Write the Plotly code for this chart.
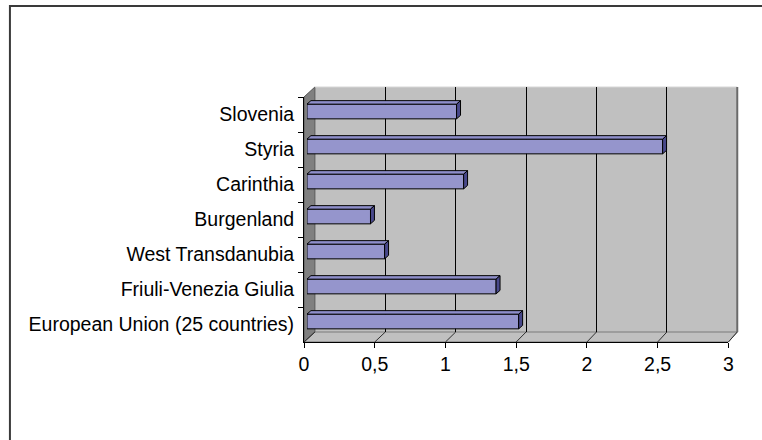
import plotly.graph_objects as go

# ---- data -------------------------------------------------------------
CATEGORIES = [
    "Slovenia",
    "Styria",
    "Carinthia",
    "Burgenland",
    "West Transdanubia",
    "Friuli-Venezia Giulia",
    "European Union (25 countries)",
]
VALUES = [1.06, 2.52, 1.11, 0.45, 0.55, 1.34, 1.50]
X_TICKS = [0, 0.5, 1, 1.5, 2, 2.5, 3]
X_TICK_TEXT = ["0", "0,5", "1", "1,5", "2", "2,5", "3"]

# ---- geometry / style -------------------------------------------------
W, H = 762, 440
X_RANGE = [0, 3]
Y_RANGE = [len(CATEGORIES) - 0.5, -0.5]  # first category on top

# pixel boxes (left, right, top, bottom) of the three depth planes
FRONT = (303, 733, 97, 342)   # axis plane
BARS = (306, 735, 94, 339)    # plane of the bar front faces
BACK = (314, 742, 87, 332)    # back wall

BAR_WIDTH = 0.42
BAR_DX = 4 / 143.0            # bar depth, x units
BAR_DY = 3.5 / 35.0           # bar depth, category units

FONT = dict(family="Liberation Sans, Arial, sans-serif", size=19.5, color="#000000")
BAR_FRONT = "#9595CC"
BAR_TOP = "#8E8ECA"
BAR_SIDE = "#48488A"
WALL = "#C0C0C0"
SIDE_WALL = "#808080"
EDGE = "#7A7A7A"


def xdom(box):
    return [box[0] / W, box[1] / W]


def ydom(box):
    return [1 - box[3] / H, 1 - box[2] / H]


def pp(px, py):
    """pixel -> paper fraction"""
    return px / W, 1 - py / H


def plane_x(box, v):
    return box[0] + (v - X_RANGE[0]) / (X_RANGE[1] - X_RANGE[0]) * (box[1] - box[0])


def path(points, close=True):
    s = "M " + " L ".join(f"{x:.5f},{y:.5f}" for x, y in points)
    return s + (" Z" if close else "")


fig = go.Figure()

# front axis plane: carries the category and value axes (no visible marks)
fig.add_trace(go.Scatter(
    x=[None] * len(CATEGORIES), y=CATEGORIES, mode="markers",
    xaxis="x", yaxis="y", hoverinfo="skip", showlegend=False,
))
# back wall plane: carries the gridlines (no visible marks)
fig.add_trace(go.Scatter(
    x=[None], y=[None], mode="markers",
    xaxis="x2", yaxis="y2", hoverinfo="skip", showlegend=False,
))
# bars (front faces) on the bar plane
fig.add_trace(go.Bar(
    x=VALUES, y=CATEGORIES, orientation="h",
    xaxis="x3", yaxis="y3",
    width=BAR_WIDTH,
    marker=dict(color=BAR_FRONT, line=dict(color="#000000", width=1)),
    hoverinfo="skip", showlegend=False,
))

shapes = []

# --- walls of the 3-D box (paper coordinates, under everything) ---
fl, fr, ft, fb = FRONT
bl, br, bt, bb = BACK
# back wall
shapes.append(dict(type="path", xref="paper", yref="paper", layer="below",
                   path=path([pp(bl, bt), pp(br, bt), pp(br, bb), pp(bl, bb)]),
                   fillcolor=WALL, line=dict(width=0)))
# floor
shapes.append(dict(type="path", xref="paper", yref="paper", layer="below",
                   path=path([pp(fl, fb), pp(fr, fb), pp(br, bb), pp(bl, bb)]),
                   fillcolor=WALL, line=dict(color=EDGE, width=1)))
# left side wall
shapes.append(dict(type="path", xref="paper", yref="paper", layer="below",
                   path=path([pp(fl, ft), pp(bl, bt), pp(bl, bb), pp(fl, fb)]),
                   fillcolor=SIDE_WALL, line=dict(color="#555555", width=1)))
# back wall top / right edges
shapes.append(dict(type="path", xref="paper", yref="paper", layer="below",
                   path=path([pp(bl, bt), pp(br, bt)], close=False),
                   line=dict(color="#D6D6D6", width=1)))
shapes.append(dict(type="path", xref="paper", yref="paper", layer="below",
                   path=path([pp(br, bt), pp(br, bb)], close=False),
                   line=dict(color="#6A6A6A", width=2)))
# floor lines running from each front tick back to the wall
for t in X_TICKS:
    shapes.append(dict(type="path", xref="paper", yref="paper", layer="below",
                       path=path([pp(plane_x(FRONT, t), fb), pp(plane_x(BACK, t), bb)], close=False),
                       line=dict(color="#303030", width=1)))

# --- top and side faces of each bar ---
for i, v in enumerate(VALUES):
    y_top = i - BAR_WIDTH / 2
    y_bot = i + BAR_WIDTH / 2
    shapes.append(dict(
        type="path", xref="x3", yref="y3", layer="above",
        path=path([(0, y_top), (v, y_top), (v + BAR_DX, y_top - BAR_DY), (BAR_DX, y_top - BAR_DY)]),
        fillcolor=BAR_TOP, line=dict(color="#000000", width=1)))
    shapes.append(dict(
        type="path", xref="x3", yref="y3", layer="above",
        path=path([(v, y_top), (v + BAR_DX, y_top - BAR_DY), (v + BAR_DX, y_bot - BAR_DY), (v, y_bot)]),
        fillcolor=BAR_SIDE, line=dict(color="#000000", width=1)))

# --- chart frame (top and left edges) ---
shapes.append(dict(type="path", xref="paper", yref="paper", layer="above",
                   path=path([pp(5, H + 20), pp(5, 6), pp(W + 20, 6)], close=False),
                   line=dict(color="#3A3A3A", width=2)))

fig.update_layout(
    width=W, height=H,
    margin=dict(l=0, r=0, t=0, b=0),
    paper_bgcolor="#FFFFFF",
    plot_bgcolor="rgba(0,0,0,0)",
    font=FONT,
    showlegend=False,
    shapes=shapes,
    # front plane: visible axes
    xaxis=dict(domain=xdom(FRONT), anchor="y", range=X_RANGE,
               tickmode="array", tickvals=X_TICKS, ticktext=X_TICK_TEXT,
               ticks="outside", ticklen=5, tickcolor="#000000", tickwidth=1,
               showline=True, linecolor="#000000", linewidth=1,
               showgrid=False, zeroline=False, tickfont=FONT,
               ticklabelstandoff=0),
    yaxis=dict(domain=ydom(FRONT), anchor="x", type="category",
               categoryorder="array", categoryarray=CATEGORIES,
               range=Y_RANGE, tickson="boundaries",
               ticks="outside", ticklen=5, tickcolor="#000000", tickwidth=1,
               showline=True, linecolor="#000000", linewidth=1,
               showgrid=False, zeroline=False, tickfont=FONT,
               ticklabelstandoff=5),
    # back wall plane: gridlines
    xaxis2=dict(domain=xdom(BACK), anchor="y2", range=X_RANGE,
                tickmode="array", tickvals=X_TICKS,
                showticklabels=False, ticks="", showline=False,
                showgrid=True, gridcolor="#000000", gridwidth=1, zeroline=False),
    yaxis2=dict(domain=ydom(BACK), anchor="x2", range=[0, 1], visible=False),
    # bar plane
    xaxis3=dict(domain=xdom(BARS), anchor="y3", range=X_RANGE, visible=False),
    yaxis3=dict(domain=ydom(BARS), anchor="x3", type="category",
                categoryorder="array", categoryarray=CATEGORIES,
                range=Y_RANGE, visible=False),
)

fig.write_html("out.html")
